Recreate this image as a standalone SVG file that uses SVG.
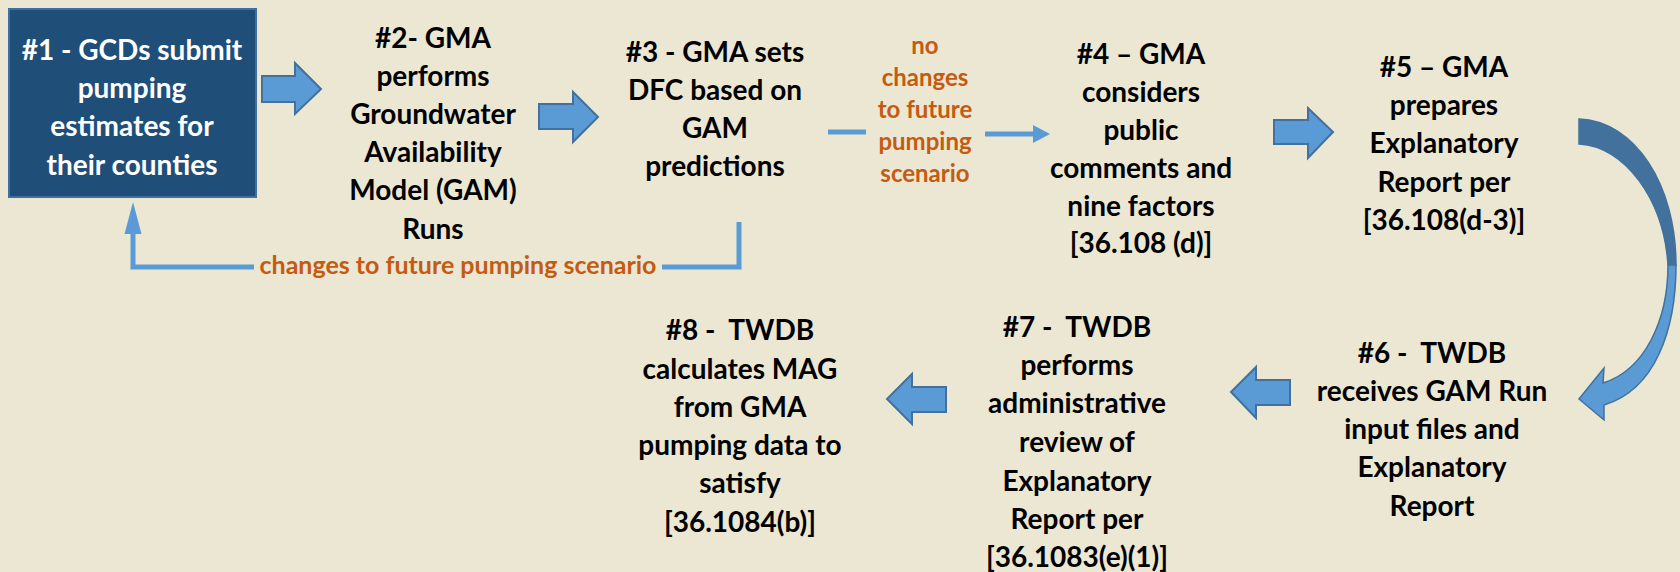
<svg xmlns="http://www.w3.org/2000/svg" width="1680" height="572" viewBox="0 0 1680 572">
<style>
.t{font-family:Lato,"Open Sans","Liberation Sans",sans-serif;font-weight:bold;font-size:28px;fill:#000;text-anchor:middle}
.w{fill:#fff}
.o{font-family:Lato,"Open Sans","Liberation Sans",sans-serif;font-weight:bold;font-size:24px;fill:#C55A11;text-anchor:middle}
.o2{font-size:25px}
.ba{fill:#5B9BD5;stroke:#41719C;stroke-width:2}
.ln{fill:none;stroke:#5B9BD5;stroke-width:5}
</style>
<rect x="0" y="0" width="1680" height="572" fill="#EBE7D3"/>
<g id="connectors">
<path class="ba" d="M262,76 H295 V63 L321,89 L295,114 V102 H262 Z"/>
<path class="ba" d="M539,104 H573 V92 L598,117 L573,142 V129 H539 Z"/>
<path class="ba" d="M1274,120 H1308 V108 L1333,132 L1308,158 V144 H1274 Z"/>
<path class="ba" d="M1290,380 H1256 V367 L1231,392 L1256,418 V405 H1290 Z"/>
<path class="ba" d="M946,387 H912 V374 L887,399 L912,424 V412 H946 Z"/>
<path class="ln" d="M739,222 V267 H662"/>
<path class="ln" d="M254,267 H133 V216"/>
<path d="M124.5,234 L133,202 L141.5,234 Z" fill="#5B9BD5"/>
<path class="ln" d="M828,132 H866" stroke-width="6"/>
<path class="ln" d="M985,134 H1035" stroke-width="6"/>
<path d="M1033,125 L1050,134 L1033,143 Z" fill="#5B9BD5"/>
<path d="M1579,119 C1635,121 1676,185 1676,265 L1668,265 C1664,200 1625,146 1579,144 Z" fill="#41719C" stroke="#41719C" stroke-width="1.5"/>
<path d="M1668,265 C1668,320 1645,370 1603,383 L1604,368 L1579,399 L1604,420 L1604,405 C1655,390 1676,330 1676,265 Z" fill="#5B9BD5" stroke="#41719C" stroke-width="1.5"/>
<text class="o o2" x="458" y="274">changes to future pumping scenario</text>
<text class="o"><tspan x="925" y="54">no</tspan><tspan x="925" y="86">changes</tspan><tspan x="925" y="118">to future</tspan><tspan x="925" y="150">pumping</tspan><tspan x="925" y="182">scenario</tspan></text>
</g>
<g id="n1">
<rect x="9" y="9" width="247" height="188" fill="#1F4E79" stroke="#3E6EA2" stroke-width="2"/>
<text class="t w"><tspan x="132" y="60">#1 - GCDs submit</tspan><tspan x="132" y="98">pumping</tspan><tspan x="132" y="136">estimates for</tspan><tspan x="132" y="175">their counties</tspan></text>
</g>
<g id="n2">
<text class="t"><tspan x="433" y="48">#2- GMA</tspan><tspan x="433" y="86">performs</tspan><tspan x="433" y="124">Groundwater</tspan><tspan x="433" y="162">Availability</tspan><tspan x="433" y="200">Model (GAM)</tspan><tspan x="433" y="239">Runs</tspan></text>
</g>
<g id="n3">
<text class="t"><tspan x="715" y="62">#3 - GMA sets</tspan><tspan x="715" y="100">DFC based on</tspan><tspan x="715" y="138">GAM</tspan><tspan x="715" y="176">predictions</tspan></text>
</g>
<g id="n4">
<text class="t"><tspan x="1141" y="64">#4 – GMA</tspan><tspan x="1141" y="102">considers</tspan><tspan x="1141" y="140">public</tspan><tspan x="1141" y="178">comments and</tspan><tspan x="1141" y="216">nine factors</tspan><tspan x="1141" y="253">[36.108 (d)]</tspan></text>
</g>
<g id="n5">
<text class="t"><tspan x="1444" y="77">#5 – GMA</tspan><tspan x="1444" y="115">prepares</tspan><tspan x="1444" y="153">Explanatory</tspan><tspan x="1444" y="192">Report per</tspan><tspan x="1444" y="230">[36.108(d-3)]</tspan></text>
</g>
<g id="n6">
<text class="t"><tspan x="1432" y="363">#6 -&#160; TWDB</tspan><tspan x="1432" y="401">receives GAM Run</tspan><tspan x="1432" y="439">input files and</tspan><tspan x="1432" y="477">Explanatory</tspan><tspan x="1432" y="516">Report</tspan></text>
</g>
<g id="n7">
<text class="t"><tspan x="1077" y="337">#7 -&#160; TWDB</tspan><tspan x="1077" y="375">performs</tspan><tspan x="1077" y="413">administrative</tspan><tspan x="1077" y="452">review of</tspan><tspan x="1077" y="491">Explanatory</tspan><tspan x="1077" y="529">Report per</tspan><tspan x="1077" y="567">[36.1083(e)(1)]</tspan></text>
</g>
<g id="n8">
<text class="t"><tspan x="740" y="340">#8 -&#160; TWDB</tspan><tspan x="740" y="379">calculates MAG</tspan><tspan x="740" y="417">from GMA</tspan><tspan x="740" y="455">pumping data to</tspan><tspan x="740" y="493">satisfy</tspan><tspan x="740" y="532">[36.1084(b)]</tspan></text>
</g>
</svg>
